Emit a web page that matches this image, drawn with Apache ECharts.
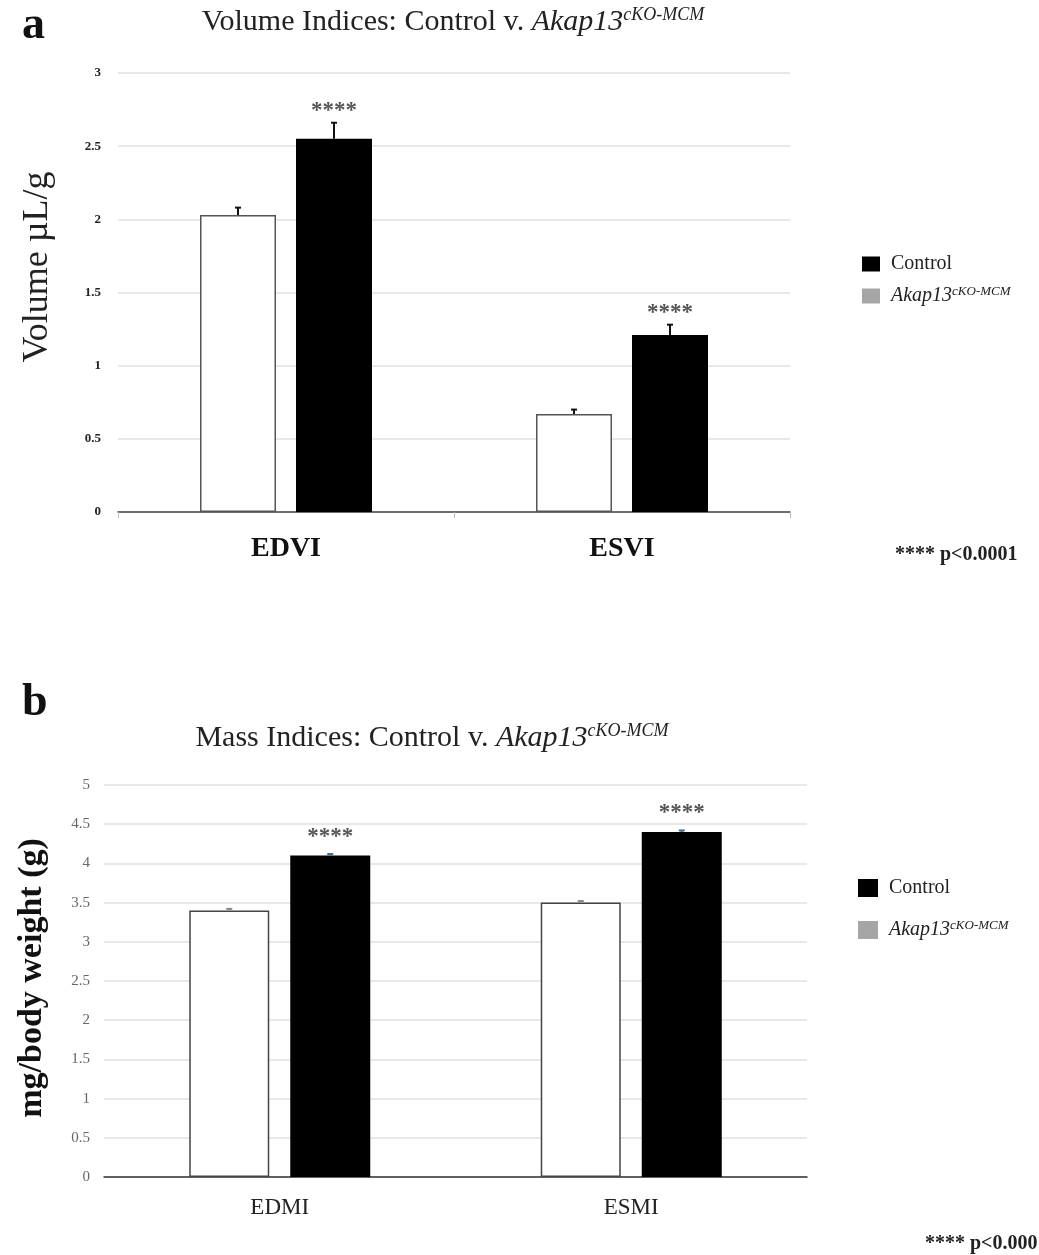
<!DOCTYPE html>
<html>
<head>
<meta charset="utf-8">
<script src="https://cdn.jsdelivr.net/npm/echarts@6/dist/echarts.min.js"></script>
<style>
  html, body { margin: 0; background: #fff; }
  #main { width: 1039px; height: 1255px; }
</style>
</head>
<body>
<div id="main"></div>
<script>
// panel a: volume indices
var volCats = ['EDVI', 'ESVI'];
var volWhite = [2.03, 0.67];
var volWhiteErr = [0.05, 0.03];
var volBlack = [2.55, 1.21];
var volBlackErr = [0.11, 0.07];
// panel b: mass indices
var massCats = ['EDMI', 'ESMI'];
var massWhite = [3.4, 3.5];
var massWhiteErr = [0.02, 0.02];
var massBlack = [4.1, 4.4];
var massBlackErr = [0.02, 0.02];
var stars = ['****', '****'];

var SERIF = '"Liberation Serif", "Times New Roman", serif';
var KO = 'Akap13cKO-MCM';

var richKO = {
  n: { fontFamily: SERIF, fontSize: 20, color: '#222' },
  i: { fontFamily: SERIF, fontSize: 20, fontStyle: 'italic', color: '#222' },
  s: { fontFamily: SERIF, fontSize: 13, fontStyle: 'italic', color: '#222', verticalAlign: 'top', lineHeight: 22 }
};
function legendFmt(name) {
  return name === KO ? '{i|Akap13}{s|cKO-MCM}' : '{n|' + name + '}';
}
function titleRich() {
  return {
    t: { fontFamily: SERIF, fontSize: 30, fill: '#222' },
    i: { fontFamily: SERIF, fontSize: 30, fontStyle: 'italic', fill: '#222' },
    s: { fontFamily: SERIF, fontSize: 18, fontStyle: 'italic', fill: '#222', verticalAlign: 'top', lineHeight: 32 }
  };
}

// error bars + significance stars, drawn through the axes
function errSeries(idx, vals, errs, shift, color, starGap) {
  return {
    type: 'custom',
    xAxisIndex: idx, yAxisIndex: idx, z: 5,
    data: vals.map(function (v, i) { return [i, v, v + errs[i]]; }),
    renderItem: function (params, api) {
      var base = api.coord([api.value(0), api.value(1)]);
      var top = api.coord([api.value(0), api.value(2)]);
      var x = base[0] + shift;
      var ch = [
        { type: 'line', shape: { x1: x, y1: base[1], x2: x, y2: top[1] }, style: { stroke: color, lineWidth: 2 } },
        { type: 'line', shape: { x1: x - 3, y1: top[1], x2: x + 3, y2: top[1] }, style: { stroke: color, lineWidth: 2 } }
      ];
      if (starGap) {
        ch.push({ type: 'text', style: {
          text: stars[params.dataIndex], x: x, y: top[1] - starGap,
          align: 'center', verticalAlign: 'middle', fill: '#555',
          font: 'bold 23px ' + SERIF
        } });
      }
      return { type: 'group', children: ch };
    }
  };
}

var chart = echarts.init(document.getElementById('main'));

var gridA = { left: 118, right: 249, top: 73, bottom: 743 };
var gridB = { left: 104, right: 232, top: 785, bottom: 78 };
var barWA = 76, barWB = 80, gapA = 20, gapB = 21;

chart.setOption({
  backgroundColor: '#fff',
  animation: false,
  graphic: [
    { type: 'text', left: 22, top: 3, style: { text: 'a', font: 'bold 46px ' + SERIF, fill: '#111' } },
    { type: 'text', left: 22, top: 680, style: { text: 'b', font: 'bold 46px ' + SERIF, fill: '#111' } },
    { type: 'text', x: 453, y: 22, style: {
      text: '{t|Volume Indices: Control v. }{i|Akap13}{s|cKO-MCM}',
      align: 'center', verticalAlign: 'middle', rich: titleRich()
    } },
    { type: 'text', x: 432, y: 738, style: {
      text: '{t|Mass Indices: Control v. }{i|Akap13}{s|cKO-MCM}',
      align: 'center', verticalAlign: 'middle', rich: titleRich()
    } },
    { type: 'text', x: 38, y: 267, rotation: Math.PI / 2, style: {
      text: 'Volume \u00b5L/g', align: 'center', verticalAlign: 'middle',
      font: '36px ' + SERIF, fill: '#222'
    } },
    { type: 'text', x: 32, y: 978, rotation: Math.PI / 2, style: {
      text: 'mg/body weight (g)', align: 'center', verticalAlign: 'middle',
      font: 'bold 34px ' + SERIF, fill: '#111'
    } },
    { type: 'text', left: 895, top: 545, style: { text: '**** p<0.0001', font: 'bold 20px ' + SERIF, fill: '#222' } },
    { type: 'text', left: 925, top: 1234, style: { text: '**** p<0.000', font: 'bold 20px ' + SERIF, fill: '#222' } }
  ],
  legend: [
    {
      left: 857, top: 249, orient: 'vertical', itemWidth: 18, itemHeight: 15, itemGap: 11,
      icon: 'rect', selectedMode: false,
      data: [
        { name: 'Control', itemStyle: { color: '#000', borderWidth: 0 } },
        { name: KO, itemStyle: { color: '#a6a6a6', borderWidth: 0 } }
      ],
      formatter: legendFmt,
      textStyle: { rich: richKO, padding: [0, 0, 0, 6] }
    },
    {
      left: 853, top: 873, orient: 'vertical', itemWidth: 20, itemHeight: 18, itemGap: 21,
      icon: 'rect', selectedMode: false,
      data: [
        { name: 'Control', itemStyle: { color: '#000', borderWidth: 0 } },
        { name: KO, itemStyle: { color: '#a6a6a6', borderWidth: 0 } }
      ],
      formatter: legendFmt,
      textStyle: { rich: richKO, padding: [0, 0, 0, 6] }
    }
  ],
  grid: [gridA, gridB],
  xAxis: [
    {
      type: 'category', gridIndex: 0, data: volCats,
      axisLine: { lineStyle: { color: '#444', width: 1.5 } },
      axisTick: { show: true, length: 6, lineStyle: { color: '#bbb' } },
      axisLabel: { fontFamily: SERIF, fontWeight: 'bold', fontSize: 28, color: '#111', margin: 23 }
    },
    {
      type: 'category', gridIndex: 1, data: massCats,
      axisLine: { lineStyle: { color: '#333', width: 1.5 } },
      axisTick: { show: false },
      axisLabel: { fontFamily: SERIF, fontSize: 23, color: '#222', margin: 19 }
    }
  ],
  yAxis: [
    {
      type: 'value', gridIndex: 0, min: 0, max: 3, interval: 0.5,
      axisLine: { show: false }, axisTick: { show: false },
      axisLabel: { fontFamily: SERIF, fontWeight: 'bold', fontSize: 13, color: '#222', margin: 17 },
      splitLine: { lineStyle: { color: '#e0e0e0', width: 1.5 } }
    },
    {
      type: 'value', gridIndex: 1, min: 0, max: 5, interval: 0.5,
      axisLine: { show: false }, axisTick: { show: false },
      axisLabel: { fontFamily: SERIF, fontSize: 15, color: '#666', margin: 14 },
      splitLine: { lineStyle: { color: '#e0e0e0', width: 1.5 } }
    }
  ],
  series: [
    {
      name: KO, type: 'bar', xAxisIndex: 0, yAxisIndex: 0, data: volWhite,
      barWidth: barWA, barGap: (gapA / barWA * 100) + '%',
      itemStyle: { color: '#fff', borderColor: '#555', borderWidth: 1.5 }
    },
    {
      name: 'Control', type: 'bar', xAxisIndex: 0, yAxisIndex: 0, data: volBlack,
      barWidth: barWA, itemStyle: { color: '#000' }
    },
    {
      name: KO, type: 'bar', xAxisIndex: 1, yAxisIndex: 1, data: massWhite,
      barWidth: barWB, barGap: (gapB / barWB * 100) + '%',
      itemStyle: { color: '#fff', borderColor: '#444', borderWidth: 1.5 }
    },
    {
      name: 'Control', type: 'bar', xAxisIndex: 1, yAxisIndex: 1, data: massBlack,
      barWidth: barWB, itemStyle: { color: '#000' }
    },
    errSeries(0, volWhite, volWhiteErr, -(barWA + gapA) / 2, '#111', 0),
    errSeries(0, volBlack, volBlackErr, (barWA + gapA) / 2, '#111', 12),
    errSeries(1, massWhite, massWhiteErr, -(barWB + gapB) / 2, '#888', 0),
    errSeries(1, massBlack, massBlackErr, (barWB + gapB) / 2, '#4a6a9a', 17)
  ]
});
</script>
</body>
</html>
